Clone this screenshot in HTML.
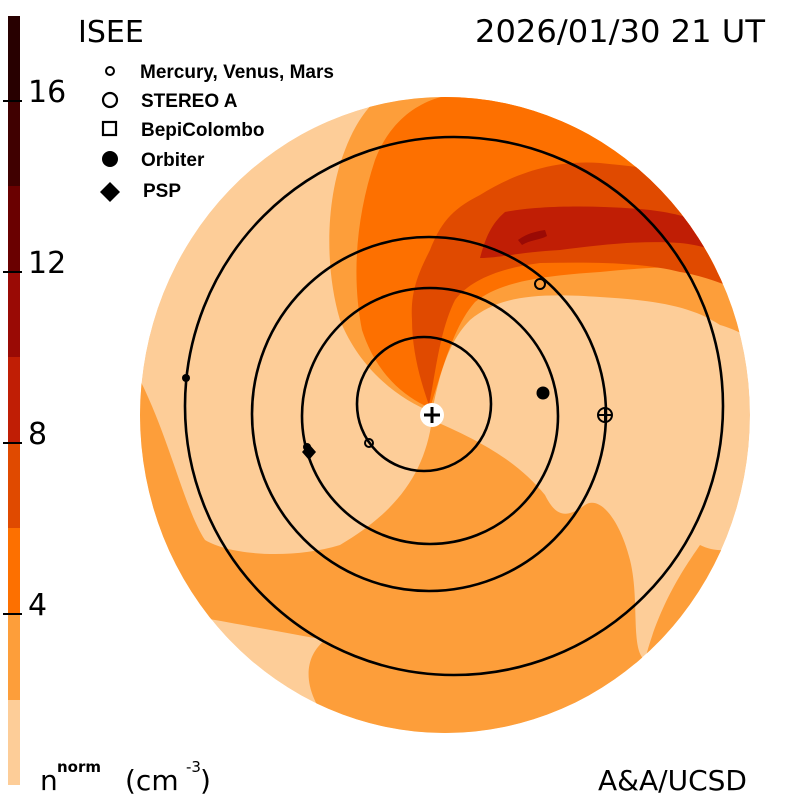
<!DOCTYPE html>
<html><head><meta charset="utf-8"><style>
html,body{margin:0;padding:0;background:#fff;}
svg{display:block;}
</style></head><body>
<svg width="800" height="800" viewBox="0 0 800 800" xmlns="http://www.w3.org/2000/svg">
<defs><clipPath id="d"><ellipse cx="445" cy="415" rx="305" ry="318"/></clipPath></defs>
<!-- colorbar -->
<rect x="8" y="700" width="12" height="85" fill="#FDCD98"/>
<rect x="8" y="614" width="12" height="86" fill="#FD9E3A"/>
<rect x="8" y="528" width="12" height="86" fill="#FD7000"/>
<rect x="8" y="443" width="12" height="85" fill="#E04A00"/>
<rect x="8" y="357" width="12" height="86" fill="#C01E05"/>
<rect x="8" y="272" width="12" height="85" fill="#9A0A05"/>
<rect x="8" y="186" width="12" height="86" fill="#6A0000"/>
<rect x="8" y="101" width="12" height="85" fill="#400000"/>
<rect x="8" y="16" width="12" height="85" fill="#280000"/>
<g stroke="#000" stroke-width="2"><line x1="3" y1="101" x2="22" y2="101"/><line x1="3" y1="272" x2="22" y2="272"/><line x1="3" y1="443" x2="22" y2="443"/><line x1="3" y1="614" x2="22" y2="614"/></g>
<g font-family="DejaVu Sans, sans-serif" font-size="30" fill="#000">
<text x="28" y="102">16</text><text x="28" y="273">12</text><text x="28" y="444">8</text><text x="28" y="615">4</text>
<text x="78" y="42">ISEE</text>
<text x="765" y="42" text-anchor="end" font-size="31" textLength="290" lengthAdjust="spacingAndGlyphs">2026/01/30 21 UT</text>
<text x="598" y="790" font-size="28">A&amp;A/UCSD</text>
<text x="40" y="790" font-size="28">n</text><text x="57" y="772" font-size="15" font-weight="bold">norm</text>
<text x="125" y="790" font-size="28">(cm</text><text x="186" y="772" font-size="15">-3</text><text x="200" y="790" font-size="28">)</text>
</g>
<!-- legend -->
<g font-family="Liberation Sans, sans-serif" font-size="19" font-weight="bold" fill="#000">
<text x="140" y="78">Mercury, Venus, Mars</text>
<text x="141" y="107">STEREO A</text>
<text x="141" y="136">BepiColombo</text>
<text x="141" y="166">Orbiter</text>
<text x="143" y="197">PSP</text>
</g>
<circle cx="110" cy="71" r="4" fill="none" stroke="#000" stroke-width="2"/>
<circle cx="110" cy="100" r="7" fill="none" stroke="#000" stroke-width="2.2"/>
<rect x="103" y="122" width="13" height="13" fill="none" stroke="#000" stroke-width="2.2"/>
<circle cx="110" cy="159" r="8" fill="#000"/>
<path d="M110 182 L120 192 L110 202 L100 192Z" fill="#000"/>
<!-- disk -->
<g clip-path="url(#d)">
<ellipse cx="445" cy="415" rx="305" ry="318" fill="#FDCD98"/>
<!-- lower orange -->
<path d="M432 420 C425 470 400 510 340 545 C290 560 230 555 205 540 C185 510 170 440 140 380 L120 380 L120 603 C170 612 260 628 325 640 C300 660 300 700 350 745 L500 760 L780 760 L780 520 C760 540 730 560 700 545 C690 560 660 600 645 660 C630 650 640 600 630 560 C620 520 600 495 585 505 C565 520 555 515 545 495 C520 465 490 445 432 420Z" fill="#FD9E3A"/>
<!-- upper orange light -->
<path d="M432 412 C400 400 360 370 340 320 C325 270 325 200 345 150 C360 110 380 95 400 80 L800 80 L800 360 C770 350 740 330 720 325 C690 305 650 300 600 297 C540 293 500 295 470 320 C450 340 440 370 432 412Z" fill="#FD9E3A"/>
<!-- orange -->
<path d="M430 408 C400 395 375 370 362 330 C352 280 355 220 375 160 C390 120 420 100 450 95 L800 95 L800 300 C770 290 740 285 715 270 C680 265 640 268 600 272 C540 276 500 282 475 302 C455 325 445 360 430 408Z" fill="#FD7000"/>
<!-- red-orange -->
<path d="M429 405 C420 380 412 350 412 320 C410 290 420 270 430 250 C440 225 450 210 480 195 C520 170 560 160 600 163 C650 168 690 172 720 190 L760 240 L760 300 C730 285 700 275 680 272 C640 262 590 262 540 263 C500 268 470 280 455 300 C440 330 436 370 429 405Z" fill="#E04A00"/>
<!-- dark red -->
<path d="M480 258 C485 240 490 225 505 212 C540 205 600 205 650 210 C690 215 715 225 735 245 L740 260 C715 250 700 245 680 243 C640 240 600 245 560 250 C520 252 500 258 480 258Z" fill="#C01E05"/>
<path d="M518 240 C525 235 532 232 545 230 L547 236 C540 240 530 240 522 245Z" fill="#9A0A05"/>
</g>
<!-- orbits -->
<g fill="none" stroke="#000" stroke-width="2.6">
<circle cx="424" cy="404" r="67"/>
<circle cx="430" cy="416" r="128"/>
<circle cx="429" cy="414" r="177"/>
<circle cx="454" cy="406" r="269"/>
</g>
<!-- markers -->
<circle cx="432" cy="415" r="12" fill="#fff"/>
<path d="M432 407 V423 M424 415 H440" stroke="#000" stroke-width="3"/>
<circle cx="369" cy="443" r="4" fill="none" stroke="#000" stroke-width="2"/>
<circle cx="540" cy="284" r="5" fill="none" stroke="#000" stroke-width="2"/>
<circle cx="186" cy="378" r="4" fill="#000"/>
<circle cx="543" cy="393" r="6.5" fill="#000"/>
<circle cx="605" cy="415" r="7" fill="none" stroke="#000" stroke-width="2"/>
<path d="M605 408 V422 M598 415 H612" stroke="#000" stroke-width="2"/>
<circle cx="307" cy="447" r="4" fill="#000"/>
<path d="M309 444 L316 452 L309 460 L302 452Z" fill="#000"/>
</svg>
</body></html>
